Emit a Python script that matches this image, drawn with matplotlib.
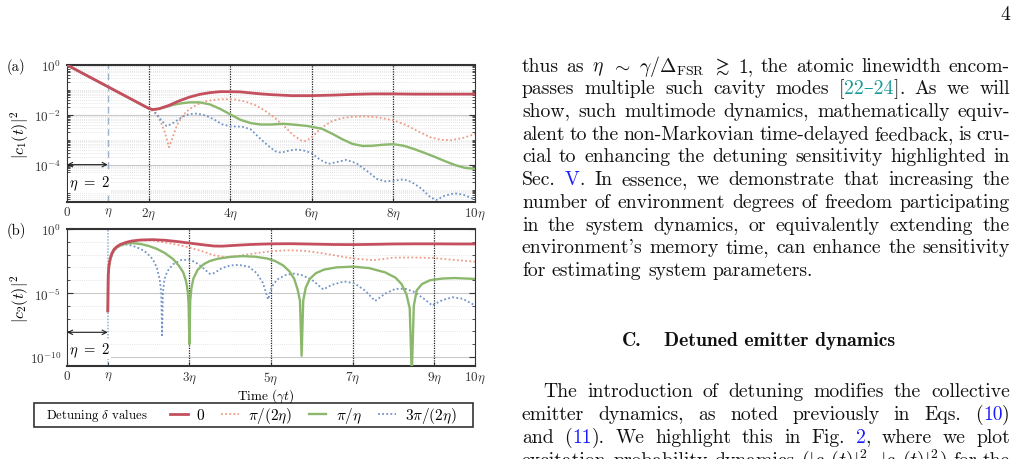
import numpy as np
import matplotlib
matplotlib.use("Agg")
import matplotlib.pyplot as plt
from matplotlib.lines import Line2D
from matplotlib.patches import Rectangle
from matplotlib.ticker import FixedLocator, LogLocator, NullFormatter

plt.rcParams['mathtext.fontset'] = 'cm'
plt.rcParams['font.family'] = ['cmr10', 'DejaVu Serif']
plt.rcParams['axes.formatter.use_mathtext'] = True
plt.rcParams['axes.unicode_minus'] = False

# ---------------- data (time in units of eta, values as log10) ----------------
ETA = 2.0
shared_a_t = [0.0, 1.0, 2.0]
shared_a_log = [0.0, -0.87, -1.74]

a_red_t = [2.1, 2.25, 2.5, 2.75, 3.0, 3.25, 3.5, 3.75, 4.0, 4.25, 4.5, 4.75, 5.0, 5.5, 6.0, 6.5, 7.0, 7.5, 8.0, 8.5, 9.0, 9.5, 10.0]
a_red_log = [-1.79, -1.76, -1.62, -1.44, -1.29, -1.18, -1.11, -1.07, -1.07, -1.08, -1.12, -1.16, -1.19, -1.23, -1.23, -1.21, -1.18, -1.16, -1.16, -1.17, -1.17, -1.17, -1.17]

a_orange_t = [2.1, 2.2, 2.3, 2.4, 2.5, 2.58, 2.7, 2.85, 3.0, 3.2, 3.4, 3.6, 3.85, 4.1, 4.35, 4.6, 4.85, 5.1, 5.35, 5.55, 5.75, 5.85, 6.0, 6.25, 6.5, 6.75, 7.0, 7.3, 7.6, 8.0, 8.3, 8.6, 8.9, 9.15, 9.4, 9.7, 10.0]
a_orange_log = [-1.85, -2.0, -2.3, -2.7, -3.3, -2.95, -2.4, -2.0, -1.77, -1.58, -1.46, -1.4, -1.37, -1.38, -1.46, -1.6, -1.83, -2.13, -2.5, -2.82, -3.04, -3.05, -2.9, -2.5, -2.25, -2.13, -2.08, -2.06, -2.1, -2.22, -2.4, -2.66, -2.9, -3.0, -3.02, -2.93, -2.77]

a_green_t = [2.1, 2.2, 2.4, 2.6, 2.8, 3.0, 3.25, 3.5, 3.75, 4.0, 4.25, 4.5, 4.75, 5.0, 5.3, 5.6, 5.9, 6.25, 6.5, 6.75, 7.0, 7.25, 7.5, 7.75, 8.0, 8.25, 8.5, 8.75, 9.0, 9.25, 9.5, 9.75, 10.0]
a_green_log = [-1.79, -1.77, -1.7, -1.6, -1.54, -1.5, -1.5, -1.58, -1.76, -1.98, -2.2, -2.33, -2.39, -2.39, -2.36, -2.4, -2.45, -2.56, -2.76, -2.98, -3.17, -3.25, -3.24, -3.2, -3.18, -3.24, -3.37, -3.52, -3.68, -3.85, -4.01, -4.13, -4.17]

a_blue_t = [2.1, 2.2, 2.3, 2.44, 2.55, 2.7, 2.85, 3.0, 3.2, 3.4, 3.6, 3.8, 4.0, 4.3, 4.5, 4.7, 4.9, 5.1, 5.25, 5.45, 5.65, 5.85, 6.0, 6.2, 6.4, 6.6, 6.85, 7.1, 7.35, 7.6, 7.8, 8.0, 8.25, 8.45, 8.7, 8.9, 9.05, 9.25, 9.5, 9.7, 10.0]
a_blue_log = [-1.82, -1.97, -2.2, -2.45, -2.38, -2.22, -2.06, -1.97, -1.95, -2.03, -2.18, -2.38, -2.46, -2.48, -2.58, -2.9, -3.2, -3.46, -3.52, -3.43, -3.39, -3.45, -3.55, -3.8, -3.97, -3.9, -3.81, -3.95, -4.25, -4.58, -4.67, -4.65, -4.59, -4.7, -4.98, -5.3, -5.42, -5.25, -5.15, -5.2, -5.4]

b_red_t = [1.0, 1.01, 1.03, 1.06, 1.1, 1.15, 1.22, 1.3, 1.45, 1.6, 1.8, 2.1, 2.4, 2.7, 3.0, 3.3, 3.6, 3.8, 4.1, 4.5, 5.0, 5.5, 6.0, 6.5, 7.0, 7.5, 8.0, 8.5, 9.0, 9.5, 10.0]
b_red_log = [-6.4, -3.6, -2.8, -2.3, -1.9, -1.6, -1.38, -1.22, -1.04, -0.93, -0.86, -0.83, -0.88, -0.98, -1.1, -1.22, -1.33, -1.34, -1.28, -1.21, -1.16, -1.15, -1.18, -1.21, -1.22, -1.2, -1.17, -1.16, -1.16, -1.17, -1.17]

b_orange_t = [1.0, 1.01, 1.03, 1.06, 1.1, 1.15, 1.22, 1.3, 1.45, 1.6, 1.8, 2.1, 2.4, 2.7, 3.0, 3.3, 3.6, 3.9, 4.2, 4.6, 5.0, 5.4, 5.8, 6.2, 6.6, 7.0, 7.5, 8.0, 8.5, 9.0, 9.5, 10.0]
b_orange_log = [-6.4, -3.6, -2.8, -2.3, -1.9, -1.6, -1.38, -1.22, -1.05, -0.95, -0.89, -0.89, -1.05, -1.22, -1.45, -1.72, -2.05, -2.2, -2.1, -1.9, -1.74, -1.66, -1.7, -1.86, -2.08, -2.3, -2.44, -2.24, -2.22, -2.27, -2.42, -2.55]

b_green_t = [1.0, 1.01, 1.03, 1.06, 1.1, 1.15, 1.22, 1.3, 1.45, 1.6, 1.8, 2.0, 2.2, 2.4, 2.6, 2.75, 2.85, 2.92, 2.96, 2.98, 3.0, 3.02, 3.05, 3.1, 3.2, 3.35, 3.5, 3.7, 4.0, 4.3, 4.6, 4.9, 5.1, 5.3, 5.45, 5.57, 5.65, 5.71, 5.75, 5.79, 5.85, 5.95, 6.1, 6.3, 6.6, 7.0, 7.4, 7.8, 8.05, 8.2, 8.32, 8.4, 8.45, 8.5, 8.57, 8.7, 8.9, 9.2, 9.5, 10.0]
b_green_log = [-6.4, -3.7, -2.9, -2.4, -2.0, -1.7, -1.45, -1.3, -1.13, -1.1, -1.17, -1.32, -1.55, -1.88, -2.35, -2.9, -3.4, -4.1, -4.9, -5.8, -9.0, -5.6, -4.6, -3.85, -3.2, -2.75, -2.5, -2.32, -2.18, -2.12, -2.16, -2.3, -2.5, -2.85, -3.3, -3.9, -4.7, -5.6, -9.9, -5.6, -4.6, -3.9, -3.45, -3.17, -3.0, -2.94, -3.05, -3.39, -3.8, -4.3, -5.1, -6.2, -11.5, -6.0, -4.8, -4.3, -4.0, -3.87, -3.83, -3.9]

b_blue_t = [1.0, 1.01, 1.03, 1.06, 1.1, 1.15, 1.22, 1.3, 1.45, 1.6, 1.8, 1.95, 2.1, 2.2, 2.27, 2.31, 2.33, 2.35, 2.39, 2.46, 2.6, 2.8, 3.0, 3.15, 3.3, 3.5, 3.6, 3.8, 4.0, 4.2, 4.45, 4.65, 4.8, 4.93, 5.02, 5.15, 5.35, 5.55, 5.75, 6.0, 6.28, 6.5, 6.8, 7.05, 7.3, 7.55, 7.8, 8.05, 8.3, 8.5, 8.75, 8.95, 9.2, 9.45, 9.7, 10.0]
b_blue_log = [-6.4, -3.7, -2.9, -2.4, -2.0, -1.7, -1.45, -1.3, -1.22, -1.3, -1.55, -1.85, -2.35, -3.0, -3.9, -5.0, -8.3, -5.0, -3.9, -3.3, -2.75, -2.42, -2.4, -2.6, -2.95, -3.5, -3.45, -3.05, -2.85, -2.8, -2.93, -3.45, -4.2, -5.5, -4.5, -3.95, -3.6, -3.48, -3.6, -3.95, -4.72, -4.35, -4.1, -4.25, -4.8, -5.62, -5.05, -4.67, -4.68, -4.9, -5.45, -5.97, -5.55, -5.33, -5.45, -5.97]

legend_labels = ['0', r'$\pi/(2\eta)$', r'$\pi/\eta$', r'$3\pi/(2\eta)$']
a_xticks_eta = [0, 1, 2, 4, 6, 8, 10]
a_xticklabels = ['$0$', r'$\eta$', r'$2\eta$', r'$4\eta$', r'$6\eta$', r'$8\eta$', r'$10\eta$']
b_xticks_eta = [0, 1, 3, 5, 7, 9, 10]
b_xticklabels = ['$0$', r'$\eta$', r'$3\eta$', r'$5\eta$', r'$7\eta$', r'$9\eta$', r'$10\eta$']
a_yticks = [1e0, 1e-2, 1e-4]
a_yticklabels = [r'$10^{0}$', r'$10^{-2}$', r'$10^{-4}$']
b_yticks = [1e0, 1e-5, 1e-10]
b_yticklabels = [r'$10^{0}$', r'$10^{-5}$', r'$10^{-10}$']
a_vlines_eta = [2, 4, 6, 8]
b_vlines_eta = [3, 5, 7, 9]

C_RED = '#c4505f'
C_ORANGE = '#ee9c88'
C_GREEN = '#8cb86e'
C_BLUE = '#7094c8'
DOT = (0, (1, 1.3))
styles = [dict(color=C_RED, lw=2.0, ls='-'),
          dict(color=C_ORANGE, lw=1.3, ls=DOT),
          dict(color=C_GREEN, lw=1.7, ls='-'),
          dict(color=C_BLUE, lw=1.3, ls=DOT)]

W, H = 1018, 460
fig = plt.figure(figsize=(W / 100, H / 100), dpi=100)
axa = fig.add_axes([67 / W, 1 - 203 / H, 408 / W, 137 / H])
axb = fig.add_axes([67 / W, 1 - 367 / H, 408 / W, 137 / H])


def to_val(logs):
    return 10.0 ** np.asarray(logs)


def gt(t_eta):
    return np.asarray(t_eta) * ETA


# panel (a)
a_series = [(a_red_t, a_red_log), (a_orange_t, a_orange_log), (a_green_t, a_green_log), (a_blue_t, a_blue_log)]
order = [1, 3, 2, 0]
for i in order:
    t, lg = a_series[i]
    axa.plot(gt(shared_a_t + t), to_val(shared_a_log + lg), zorder=3 + (i == 0), **styles[i])

b_series = [(b_red_t, b_red_log), (b_orange_t, b_orange_log), (b_green_t, b_green_log), (b_blue_t, b_blue_log)]
for i in order:
    t, lg = b_series[i]
    axb.plot(gt(t), to_val(lg), zorder=3 + (i == 0), **styles[i])

# vertical reference lines
axa.axvline(1 * ETA, color='#9db3cc', lw=1.0, ls=(0, (5, 3)), zorder=2)
for v in a_vlines_eta:
    axa.axvline(v * ETA, color='#222222', lw=0.9, ls=(0, (1, 1)), zorder=2)
axb.axvline(1 * ETA, color='#8fb0d4', lw=1.1, ls=(0, (1, 1)), zorder=2)
for v in b_vlines_eta:
    axb.axvline(v * ETA, color='#222222', lw=0.9, ls=(0, (1, 1)), zorder=2)

for ax, ylim, yt, ytl, xt, xtl, minor_subs in [
        (axa, (10 ** -5.5, 1.0), a_yticks, a_yticklabels, a_xticks_eta, a_xticklabels, np.arange(1, 10)),
        (axb, (10 ** -10.7, 1.0), b_yticks, b_yticklabels, b_xticks_eta, b_xticklabels, (1.0,))]:
    ax.set_yscale('log')
    ax.set_xlim(0, 10 * ETA)
    ax.set_ylim(*ylim)
    ax.yaxis.set_major_locator(FixedLocator(yt))
    ax.set_yticklabels(ytl)
    ax.yaxis.set_minor_locator(LogLocator(base=10, subs=minor_subs, numticks=60))
    ax.yaxis.set_minor_formatter(NullFormatter())
    ax.set_xticks(np.asarray(xt) * ETA)
    ax.set_xticklabels(xtl)
    ax.grid(True, axis='y', which='major', color='#c9c9c9', lw=0.8, ls='-', zorder=0)
    ax.grid(True, axis='y', which='minor', color='#dedede', lw=0.6, ls=(0, (1, 1.5)), zorder=0)
    ax.tick_params(axis='both', which='both', direction='in', labelsize=9.5, colors='#333333', right=True, top=False)
    ax.tick_params(axis='y', which='major', length=4, width=0.8, pad=4)
    ax.tick_params(axis='y', which='minor', length=2, width=0.6)
    ax.tick_params(axis='x', which='major', length=3, width=0.8, pad=2.5)
    for s in ['top', 'bottom']:
        ax.spines[s].set_linewidth(1.5)
        ax.spines[s].set_color('#333333')
    for s in ['left', 'right']:
        ax.spines[s].set_linewidth(0.8)
        ax.spines[s].set_color('#333333')
    ax.set_axisbelow(True)

# eta = 2 annotations
axa.annotate('', xy=(0, 1e-4), xytext=(1 * ETA, 1e-4),
             arrowprops=dict(arrowstyle='<->', color='#222222', lw=0.8, shrinkA=0, shrinkB=0, mutation_scale=8))
axa.text(0.05 * ETA, 10 ** -4.72, r'$\eta\ =\ 2$', fontsize=10.5, ha='left', va='center',
         bbox=dict(fc='white', ec='none', pad=0.5))
axb.annotate('', xy=(0, 10 ** -8.07), xytext=(1 * ETA, 10 ** -8.07),
             arrowprops=dict(arrowstyle='<->', color='#222222', lw=0.8, shrinkA=0, shrinkB=0, mutation_scale=8))
axb.text(0.05 * ETA, 10 ** -9.4, r'$\eta\ =\ 2$', fontsize=10.5, ha='left', va='center',
         bbox=dict(fc='white', ec='none', pad=0.5))

# labels
fig.text(7 / W, 1 - 67 / H, '(a)', fontsize=10.5, ha='left', va='center')
fig.text(7 / W, 1 - 231 / H, '(b)', fontsize=10.5, ha='left', va='center')
fig.text(20 / W, 1 - 135 / H, r'$|c_1(t)|^2$', fontsize=11.5, rotation=90, ha='center', va='center')
fig.text(20 / W, 1 - 299 / H, r'$|c_2(t)|^2$', fontsize=11.5, rotation=90, ha='center', va='center')
fig.text(266 / W, 1 - 396 / H, r'Time ($\gamma t$)', fontsize=9.5, ha='center', va='center')

# legend
fig.patches.append(Rectangle((34 / W, 1 - 428 / H), 439 / W, 24 / H, transform=fig.transFigure,
                             fill=False, ec='#333333', lw=1.2))
fig.text(46 / W, 1 - 416 / H, r'Detuning $\delta$ values', fontsize=9.2, ha='left', va='center')
handles = [Line2D([], [], **styles[i]) for i in range(4)]
fig.legend(handles, legend_labels, loc='center left', bbox_to_anchor=(170 / W, 1 - 416 / H),
           ncol=4, frameon=False, fontsize=11, handlelength=1.15, handletextpad=0.6,
           columnspacing=1.1, borderpad=0, borderaxespad=0)

# ---------------- body text on the right ----------------
TEAL = '#159b9b'
LBLUE = '#1a1aff'
K = '#111111'
BODY = 14.2
renderer = fig.canvas.get_renderer()


def place_line(tokens, x0, x1, ybase, justify=True, size=BODY, family=None):
    words = []
    for tok in tokens:
        segs = [(tok, K)] if isinstance(tok, str) else tok
        objs = []
        w = 0.0
        for s, c in segs:
            kw = dict(fontsize=size, color=c, ha='left', va='baseline')
            if family:
                kw['family'] = family
            t = fig.text(0, 0, s, **kw)
            ww = t.get_window_extent(renderer).width
            objs.append((t, ww))
            w += ww
        words.append((objs, w))
    total = sum(w for _, w in words)
    if justify and len(words) > 1:
        gap = (x1 - x0 - total) / (len(words) - 1)
    else:
        gap = size * 100 / 72 * 0.333
    x = x0
    for objs, w in words:
        for t, ww in objs:
            t.set_position((x / W, 1 - ybase / H))
            x += ww
        x += gap


lines1 = [
    ['thus', 'as', r'$\eta$', r'$\sim$', r'$\gamma/\Delta_{\rm FSR}$', r'$\gtrsim$', '1,', 'the', 'atomic', 'linewidth', 'encom-'],
    ['passes', 'multiple', 'such', 'cavity', 'modes', [('[', K), ('22–24', TEAL), (']', K), ('.', K)], 'As', 'we', 'will'],
    ['show,', 'such', 'multimode', 'dynamics,', 'mathematically', 'equiv-'],
    ['alent', 'to', 'the', 'non-Markovian', 'time-delayed', 'feedback,', 'is', 'cru-'],
    ['cial', 'to', 'enhancing', 'the', 'detuning', 'sensitivity', 'highlighted', 'in'],
    ['Sec.', [('V', LBLUE), ('.', K)], 'In', 'essence,', 'we', 'demonstrate', 'that', 'increasing', 'the'],
    ['number', 'of', 'environment', 'degrees', 'of', 'freedom', 'participating'],
    ['in', 'the', 'system', 'dynamics,', 'or', 'equivalently', 'extending', 'the'],
    ["environment's", 'memory', 'time,', 'can', 'enhance', 'the', 'sensitivity'],
]
for k, toks in enumerate(lines1):
    place_line(toks, 522, 1010, 71.7 + 22.7 * k)
place_line(['for', 'estimating', 'system', 'parameters.'], 522, 1010, 71.7 + 22.7 * 9, justify=False)

fig.text(622 / W, 1 - 346 / H, 'C.', fontsize=BODY, family='cmb10', ha='left', va='baseline', color=K)
fig.text(664 / W, 1 - 346 / H, 'Detuned emitter dynamics', fontsize=BODY, family='cmb10', ha='left', va='baseline', color=K)

lines2 = [
    (543, ['The', 'introduction', 'of', 'detuning', 'modifies', 'the', 'collective']),
    (522, ['emitter', 'dynamics,', 'as', 'noted', 'previously', 'in', 'Eqs.', [('(', K), ('10', LBLUE), (')', K)]]),
    (522, ['and', [('(', K), ('11', LBLUE), (').', K)], 'We', 'highlight', 'this', 'in', 'Fig.', [('2', LBLUE), (',', K)], 'where', 'we', 'plot']),
    (522, ['excitation', 'probability', 'dynamics', r'($|c_1(t)|^2$,', r'$|c_2(t)|^2$)', 'for', 'the']),
]
for k, (x0, toks) in enumerate(lines2):
    place_line(toks, x0, 1010, 396.7 + 23.2 * k)

fig.text(1010 / W, 1 - 20 / H, '4', fontsize=BODY, ha='right', va='baseline', color=K)

fig.savefig('out.png', dpi=100)
